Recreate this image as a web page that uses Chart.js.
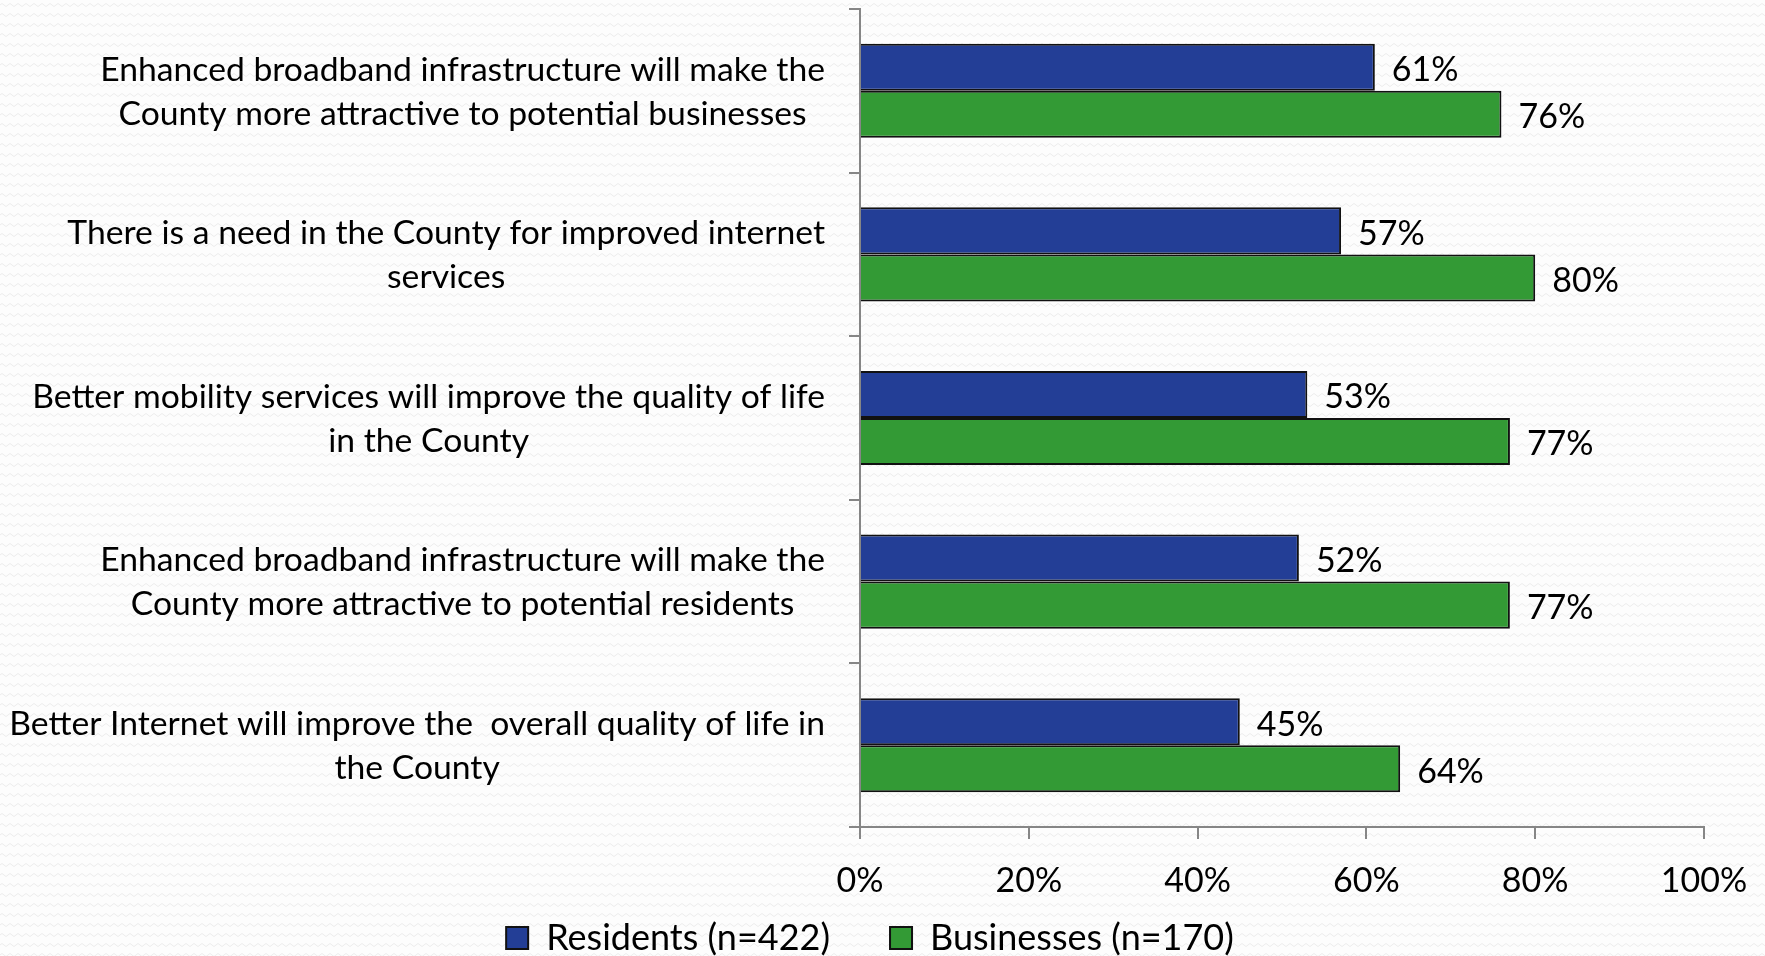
<!DOCTYPE html>
<html>
<head>
<meta charset="utf-8">
<title>Broadband survey</title>
<script src="https://cdn.jsdelivr.net/npm/chart.js@4"></script>
<style>
  html, body {
    margin: 0;
    padding: 0;
    overflow: hidden;
  }
  body {
    background-color: #fdfdfd;
    background-image: url("data:image/svg+xml;utf8,<svg xmlns='http://www.w3.org/2000/svg' width='8' height='10'><path d='M0 5 Q2 2 4 5 T8 5' fill='none' stroke='%23ececec' stroke-width='1'/></svg>");
  }
  #wrap {
    width: 1765px;
    height: 956px;
  }
</style>
</head>
<body>
<div id="wrap"><canvas id="survey-chart"></canvas></div>
<script>
const categories = [
  ["Enhanced broadband infrastructure will make the", "County more attractive to potential businesses"],
  ["There is a need in the County for improved internet", "services"],
  ["Better mobility services will improve the quality of life", "in the County"],
  ["Enhanced broadband infrastructure will make the", "County more attractive to potential residents"],
  ["Better Internet will improve the  overall quality of life in", "the County"],
];

const residents = [61, 57, 53, 52, 45];
const businesses = [76, 80, 77, 77, 64];

const xTicks = [0, 20, 40, 60, 80, 100];

const FONT = "Lato";
const AXIS_GREY = "#868686";

// value labels to the right of every bar
const barValues = {
  id: "barValues",
  afterDatasetsDraw(chart) {
    const ctx = chart.ctx;
    ctx.save();
    ctx.font = "34px " + FONT;
    ctx.fillStyle = "#000";
    ctx.textAlign = "left";
    ctx.textBaseline = "middle";
    chart.data.datasets.forEach((ds, i) => {
      chart.getDatasetMeta(i).data.forEach((bar, j) => {
        ctx.fillText(ds.data[j] + "%", bar.x + 17, bar.y + 3);
      });
    });
    ctx.restore();
  },
};

// axis text: category blocks sit against the y axis with their lines centred,
// percent labels hang below the x ticks (drawn here so the legend can sit close)
const axisText = {
  id: "axisText",
  afterDraw(chart) {
    const ctx = chart.ctx;
    const yScale = chart.scales.y;
    const xScale = chart.scales.x;
    ctx.save();
    ctx.fillStyle = "#000";
    ctx.textAlign = "center";
    ctx.textBaseline = "middle";

    ctx.font = "33.7px " + FONT;
    const right = yScale.right - 35;
    const lineH = 44;
    categories.forEach((lines, i) => {
      const widest = Math.max(...lines.map((l) => ctx.measureText(l).width));
      const cx = right - widest / 2;
      const cy = yScale.getPixelForValue(i) + 1;
      lines.forEach((line, k) => {
        ctx.fillText(line, cx, cy - ((lines.length - 1) * lineH) / 2 + k * lineH);
      });
    });

    ctx.font = "34px " + FONT;
    xTicks.forEach((v) => {
      ctx.fillText(v + "%", xScale.getPixelForValue(v), xScale.top + 54);
    });
    ctx.restore();
  },
};

const data = {
  labels: categories,
  datasets: [
    {
      label: "Residents (n=422)",
      data: residents,
      backgroundColor: "#233e96",
      borderColor: "#111",
      borderWidth: 2,
    },
    {
      label: "Businesses (n=170)",
      data: businesses,
      backgroundColor: "#339a35",
      borderColor: "#111",
      borderWidth: 2,
    },
  ],
};

const options = {
  indexAxis: "y",
  responsive: true,
  maintainAspectRatio: false,
  animation: false,
  datasets: {
    bar: {
      barPercentage: 1,
      categoryPercentage: 0.575,
    },
  },
  layout: {
    padding: { top: 9, right: 61, left: 36, bottom: 0 },
  },
  scales: {
    x: {
      min: 0,
      max: 100,
      afterBuildTicks: (scale) => {
        scale.ticks = xTicks.map((v) => ({ value: v }));
      },
      afterFit: (scale) => {
        scale.height = 33;
      },
      border: { display: true, color: AXIS_GREY, width: 2 },
      grid: {
        drawOnChartArea: false,
        drawTicks: true,
        tickLength: 12,
        color: AXIS_GREY,
        lineWidth: 2,
      },
      ticks: { display: false },
    },
    y: {
      afterFit: (scale) => {
        scale.width = 824;
      },
      border: { display: true, color: AXIS_GREY, width: 2 },
      grid: {
        offset: true,
        drawOnChartArea: false,
        drawTicks: true,
        tickLength: 11,
        color: AXIS_GREY,
        lineWidth: 2,
      },
      ticks: { display: false },
    },
  },
  plugins: {
    legend: {
      position: "bottom",
      maxHeight: 96,
      labels: {
        color: "#000",
        font: { family: FONT, size: 36 },
        boxWidth: 22,
        boxHeight: 22,
        padding: 60,
      },
    },
    tooltip: { enabled: false },
  },
};

const surveyChart = new Chart(document.getElementById("survey-chart"), {
  type: "bar",
  data: data,
  options: options,
  plugins: [barValues, axisText],
});
</script>
</body>
</html>
